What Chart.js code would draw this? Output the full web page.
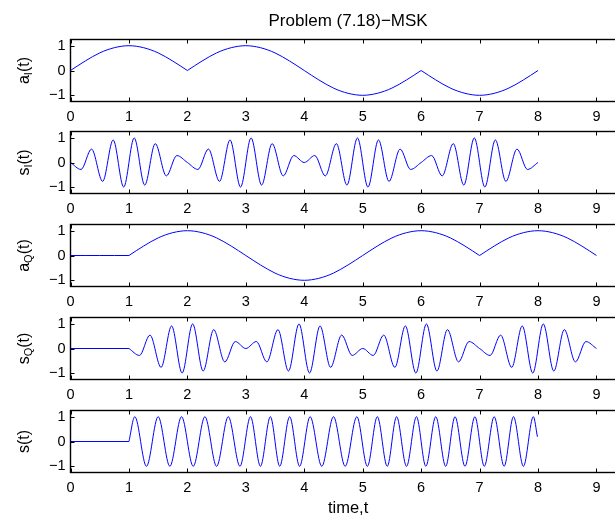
<!DOCTYPE html>
<html>
<head>
<meta charset="utf-8">
<title>Problem (7.18)−MSK</title>
<script src="https://cdn.jsdelivr.net/npm/chart.js@4.4.1/dist/chart.umd.min.js"></script>
<style>
  html, body { margin: 0; padding: 0; background: #fff; overflow: hidden; }
  #fig { position: relative; width: 615px; height: 520px; overflow: hidden; }
  #fig canvas { position: absolute; left: 0; top: 0; }
</style>
</head>
<body>
<div id="fig"></div>
<script>
// Tick marks
const xTickValues = [0, 1, 2, 3, 4, 5, 6, 7, 8, 9];
const yTickValues = [-1, 0, 1];

// In-phase and quadrature envelopes, every quarter time unit
const envTime = [0, 0.25, 0.5, 0.75, 1, 1.25, 1.5, 1.75, 2, 2.25, 2.5, 2.75, 3, 3.25, 3.5, 3.75,
  4, 4.25, 4.5, 4.75, 5, 5.25, 5.5, 5.75, 6, 6.25, 6.5, 6.75, 7, 7.25, 7.5, 7.75, 8, 8.25, 8.5, 8.75, 9];
const aI = [0, 0.38, 0.71, 0.92, 1, 0.92, 0.71, 0.38, 0,
  0.38, 0.71, 0.92, 1, 0.92, 0.71, 0.38, 0,
  -0.38, -0.71, -0.92, -1, -0.92, -0.71, -0.38, 0,
  -0.38, -0.71, -0.92, -1, -0.92, -0.71, -0.38, 0];
const aQ = [0, 0, 0, 0, 0,
  0.38, 0.71, 0.92, 1, 0.92, 0.71, 0.38, 0,
  -0.38, -0.71, -0.92, -1, -0.92, -0.71, -0.38, 0,
  0.38, 0.71, 0.92, 1, 0.92, 0.71, 0.38, 0,
  0.38, 0.71, 0.92, 1, 0.92, 0.71, 0.38, 0];

// Modulated I and Q components: peaks and troughs of each carrier cycle
const sITime = [0, 0.18, 0.36, 0.55, 0.73, 0.91, 1.09, 1.27, 1.45, 1.64, 1.82, 2,
  2.18, 2.36, 2.55, 2.73, 2.91, 3.09, 3.27, 3.45, 3.64, 3.82, 4,
  4.18, 4.36, 4.55, 4.73, 4.91, 5.09, 5.27, 5.45, 5.64, 5.82, 6,
  6.18, 6.36, 6.55, 6.73, 6.91, 7.09, 7.27, 7.45, 7.64, 7.82, 8];
const sI = [0, -0.28, 0.54, -0.76, 0.91, -0.99, 0.99, -0.91, 0.76, -0.54, 0.28, 0,
  -0.28, 0.54, -0.76, 0.91, -0.99, 0.99, -0.91, 0.76, -0.54, 0.28, 0,
  0.28, -0.54, 0.76, -0.91, 0.99, -0.99, 0.91, -0.76, 0.54, -0.28, 0,
  0.28, -0.54, 0.76, -0.91, 0.99, -0.99, 0.91, -0.76, 0.54, -0.28, 0];

const sQTime = [0, 1, 1.18, 1.36, 1.55, 1.73, 1.91, 2.09, 2.27, 2.45, 2.64, 2.82, 3,
  3.18, 3.36, 3.55, 3.73, 3.91, 4.09, 4.27, 4.45, 4.64, 4.82, 5,
  5.18, 5.36, 5.55, 5.73, 5.91, 6.09, 6.27, 6.45, 6.64, 6.82, 7,
  7.18, 7.36, 7.55, 7.73, 7.91, 8.09, 8.27, 8.45, 8.64, 8.82, 9];
const sQ = [0, 0, -0.28, 0.54, -0.76, 0.91, -0.99, 0.99, -0.91, 0.76, -0.54, 0.28, 0,
  0.28, -0.54, 0.76, -0.91, 0.99, -0.99, 0.91, -0.76, 0.54, -0.28, 0,
  -0.28, 0.54, -0.76, 0.91, -0.99, 0.99, -0.91, 0.76, -0.54, 0.28, 0,
  -0.28, 0.54, -0.76, 0.91, -0.99, 0.99, -0.91, 0.76, -0.54, 0.28, 0];

// MSK signal s(t): peaks and troughs, constant envelope
const sTime = [0, 1, 1.1, 1.3, 1.5, 1.7, 1.9, 2.1, 2.3, 2.5, 2.7, 2.9,
  3.08, 3.25, 3.42, 3.58, 3.75, 3.92,
  4.1, 4.3, 4.5, 4.7, 4.9,
  5.08, 5.25, 5.42, 5.58, 5.75, 5.92, 6.08, 6.25, 6.42, 6.58, 6.75, 6.92,
  7.08, 7.25, 7.42, 7.58, 7.75, 7.92, 7.99];
const s = [0, 0, 1, -1, 1, -1, 1, -1, 1, -1, 1, -1,
  1, -1, 1, -1, 1, -1,
  1, -1, 1, -1, 1,
  -1, 1, -1, 1, -1, 1, -1, 1, -1, 1, -1, 1,
  -1, 1, -1, 1, -1, 1, 0.19];

// times where a curve has a corner (line is split there)
const aIBreaks = [2, 6];
const aQBreaks = [1, 7];
const onsetBreaks = [1];

const panelLabels = [['a', 'I', '(t)'], ['s', 'I', '(t)'], ['a', 'Q', '(t)'], ['s', 'Q', '(t)'], ['s', '', '(t)']];

const panels = [
  { time: envTime, values: aI, breaks: aIBreaks },
  { time: sITime, values: sI, breaks: [] },
  { time: envTime, values: aQ, breaks: aQBreaks },
  { time: sQTime, values: sQ, breaks: onsetBreaks },
  { time: sTime, values: s, breaks: onsetBreaks }
];

// layout
const W = 640, H = 520;
const axisLeft = 70.5;
const xMax = 9.5;
const pxPerUnit = 58.44;
const axisRight = axisLeft + xMax * pxPerUnit;
const panelTop = [39.5, 131.5, 224.5, 317.5, 410.5];
const panelHeight = 62;
const tickLen = 4;
const fontFamily = "'Liberation Sans', Arial, Helvetica, sans-serif";

Chart.defaults.font.family = fontFamily;
Chart.defaults.color = '#000';

function toSegments(time, values, breaks) {
  const segs = [[]];
  values.forEach((v, i) => {
    const p = { x: time[i], y: v };
    segs[segs.length - 1].push(p);
    if (i > 0 && i < values.length - 1 && breaks.includes(time[i])) segs.push([p]);
  });
  return segs;
}

// axes box with inward ticks, matlab style
const frame = {
  id: 'frame',
  afterDraw(chart) {
    const { ctx, chartArea: a, scales: { x, y } } = chart;
    ctx.save();
    ctx.strokeStyle = '#000';
    ctx.lineWidth = 1.4;
    ctx.strokeRect(a.left, a.top, a.width, a.height);
    ctx.lineWidth = 1;
    ctx.beginPath();
    x.ticks.forEach(t => {
      const px = Math.round(x.getPixelForValue(t.value)) + 0.5;
      ctx.moveTo(px, a.bottom); ctx.lineTo(px, a.bottom - tickLen);
      ctx.moveTo(px, a.top); ctx.lineTo(px, a.top + tickLen);
    });
    y.ticks.forEach(t => {
      const py = Math.round(y.getPixelForValue(t.value)) + 0.5;
      ctx.moveTo(a.left, py); ctx.lineTo(a.left + tickLen, py);
      ctx.moveTo(a.right, py); ctx.lineTo(a.right - tickLen, py);
    });
    ctx.stroke();
    ctx.restore();
  }
};

// rotated y label with a subscript
const yLabel = {
  id: 'yLabel',
  afterDraw(chart, args, opts) {
    const { ctx, chartArea: a } = chart;
    const [main, sub, rest] = opts.parts;
    const mainFont = '16px ' + fontFamily;
    const subFont = '11px ' + fontFamily;
    ctx.save();
    ctx.translate(opts.x, (a.top + a.bottom) / 2);
    ctx.rotate(-Math.PI / 2);
    ctx.fillStyle = '#000';
    ctx.textBaseline = 'alphabetic';
    ctx.font = mainFont;
    const w1 = ctx.measureText(main).width, w3 = ctx.measureText(rest).width;
    ctx.font = subFont;
    const w2 = sub ? ctx.measureText(sub).width : 0;
    let px = -(w1 + w2 + w3) / 2;
    ctx.font = mainFont;
    ctx.fillText(main, px, 0);
    px += w1;
    if (sub) {
      ctx.font = subFont;
      ctx.fillText(sub, px, 3.5);
      px += w2;
    }
    ctx.font = mainFont;
    ctx.fillText(rest, px, 0);
    ctx.restore();
  }
};

const fig = document.getElementById('fig');

panels.forEach((panel, i) => {
  const canvas = document.createElement('canvas');
  canvas.width = W;
  canvas.height = H;
  fig.appendChild(canvas);

  const last = i === panels.length - 1;
  const xAxisHeight = last ? H - (panelTop[i] + panelHeight) : 28;

  new Chart(canvas, {
    type: 'line',
    data: {
      datasets: toSegments(panel.time, panel.values, panel.breaks).map(seg => ({
        data: seg,
        borderColor: '#0000ff',
        borderWidth: 1,
        pointRadius: 0,
        fill: false,
        cubicInterpolationMode: 'monotone'
      }))
    },
    options: {
      responsive: false,
      animation: false,
      events: [],
      layout: {
        padding: {
          top: i === 0 ? 0 : panelTop[i],
          left: 0,
          right: W - axisRight,
          bottom: H - panelTop[i] - panelHeight - xAxisHeight
        }
      },
      plugins: {
        legend: { display: false },
        tooltip: { enabled: false },
        title: {
          display: i === 0,
          text: 'Problem (7.18)−MSK',
          fullSize: false,
          font: { size: 17, weight: 'normal' },
          padding: { top: 10.8, bottom: 8.3 }
        },
        yLabel: { parts: panelLabels[i], x: 28.5 }
      },
      scales: {
        x: {
          type: 'linear',
          min: 0,
          max: xMax,
          afterBuildTicks: sc => { sc.ticks = xTickValues.map(v => ({ value: v })); },
          afterFit: sc => { sc.height = xAxisHeight; },
          grid: { display: false, drawTicks: false },
          border: { display: false },
          ticks: { autoSkip: false, maxRotation: 0, padding: 7, font: { size: 14.5 }, callback: v => String(v) },
          title: {
            display: last,
            text: 'time,t',
            font: { size: 16.5 },
            padding: { top: 0, bottom: 2 }
          }
        },
        y: {
          min: -1.25,
          max: 1.25,
          afterBuildTicks: sc => { sc.ticks = yTickValues.map(v => ({ value: v })); },
          afterFit: sc => { sc.width = axisLeft; },
          grid: { display: false, drawTicks: false },
          border: { display: false },
          ticks: { padding: 5, font: { size: 14.5 }, callback: v => (v < 0 ? '\u2212' + Math.abs(v) : String(v)) }
        }
      }
    },
    plugins: [frame, yLabel]
  });
});
</script>
</body>
</html>
